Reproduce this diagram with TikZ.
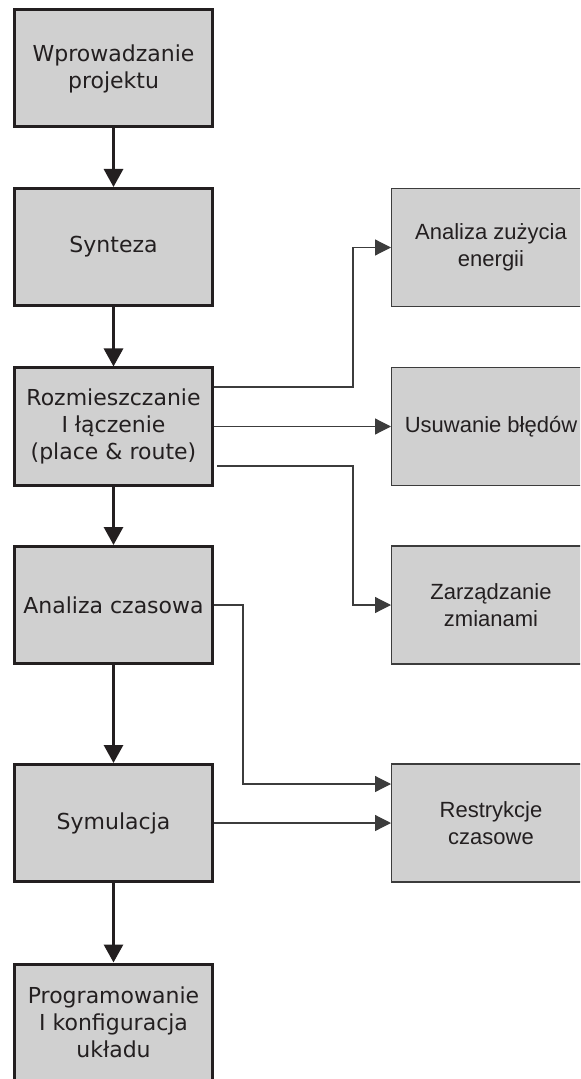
\documentclass[tikz,border=0pt]{standalone}
\usepackage{fontspec}
\setmainfont{DejaVu Sans}
\newfontfamily\arialfont{Liberation Sans}
\usetikzlibrary{arrows.meta}
\definecolor{cink}{HTML}{231F20}
\definecolor{cfill}{HTML}{D0D0D0}
\definecolor{cwire}{HTML}{3C3C3C}
\tikzset{
  stage/.style={draw=cink, fill=cfill, line width=1.5pt, minimum width=99pt, minimum height=58.5pt, align=center, inner sep=2pt, text=cink, font=\fontsize{11}{13.5}\selectfont},
  side/.style={draw=cwire, fill=cfill, line width=0.6pt, minimum width=99.4pt, minimum height=59pt, align=center, inner sep=2pt, text=cink, font=\arialfont\fontsize{11}{13.3}\selectfont},
  flow/.style={-{Triangle[length=9pt,width=9.5pt]}, draw=cink, line width=1.5pt},
  link/.style={-{Triangle[length=8pt,width=8pt]}, draw=cwire, line width=0.6pt},
}

\begin{document}
\begin{tikzpicture}[x=0.5pt, y=-0.5pt]
  \useasboundingbox (0,0) rectangle (580,1079);
  \clip (0,0) rectangle (580,1079);
  % main flow
  \node[stage] (intro)  at (113.5,68.5) {Wprowadzanie\\projektu};
  \node[stage] (synth)  at (113.5,247)  {Synteza};
  \node[stage] (place)  at (113.5,426.5) {Rozmieszczanie\\I łączenie\\(place \& route)};
  \node[stage] (timing) at (113.5,605)  {Analiza czasowa};
  \node[stage] (sim)    at (113.5,823)  {Symulacja};
  \node[stage] (prog)   at (113.5,1022.5) {Programowanie\\I konfiguracja\\układu};
  % side tasks
  \node[side] (power)  at (491,247.5) {Analiza zużycia\\energii};
  \node[side] (debug)  at (491,426.5) {Usuwanie błędów};
  \node[side] (change) at (491,605)   {Zarządzanie\\zmianami};
  \node[side] (limits) at (491,823)   {Restrykcje\\czasowe};
  \draw[flow] (intro) -- (synth);
  \draw[flow] (synth) -- (place);
  \draw[flow] (place) -- (timing);
  \draw[flow] (timing) -- (sim);
  \draw[flow] (sim) -- (prog);
  \coordinate (bus) at (353,0);
  \coordinate (bend) at (243,0);
  \coordinate (tin) at ([yshift=19.5pt]limits.west);
  \draw[link] ([yshift=19.75pt]place.east) -| (bus |- power) -- (power);
  \draw[link] (place.east) -- (debug);
  \draw[link] ([yshift=-19.75pt,xshift=1.5pt]place.east) -| (bus |- change) -- (change);
  \draw[link] (timing.east) -| (bend |- tin) -- (tin);
  \draw[link] (sim.east) -- (limits);
\end{tikzpicture}
\end{document}
